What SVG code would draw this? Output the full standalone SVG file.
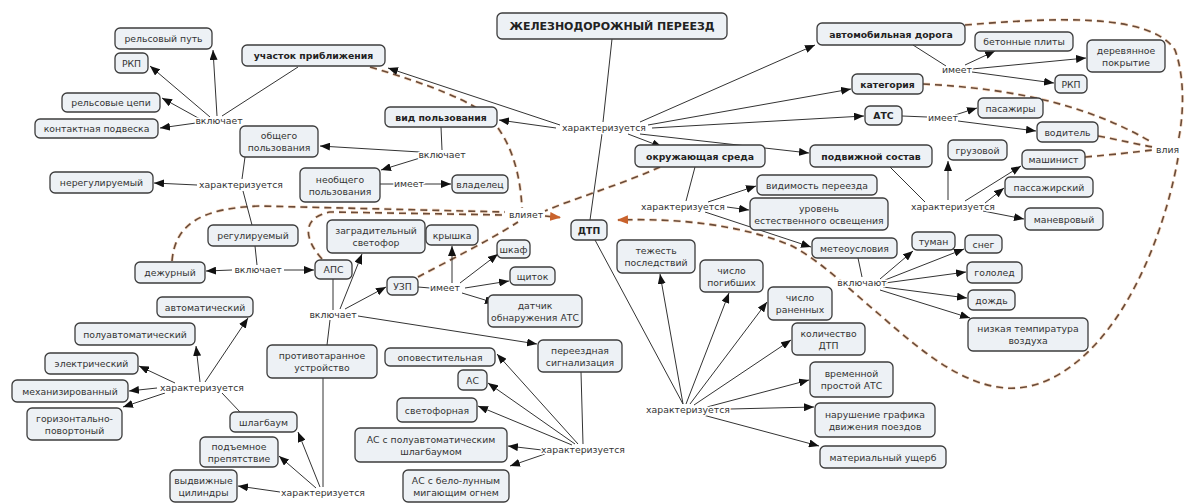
<svg xmlns="http://www.w3.org/2000/svg" width="1187" height="504" viewBox="0 0 1187 504">
<style>
.n rect{fill:#edf1f5;stroke:#3c3c3c;stroke-width:1.3}
.n text{font-family:"DejaVu Sans",sans-serif;font-size:9.3px;fill:#333;text-anchor:middle}
.n.b text{font-weight:bold;fill:#222}
.l{font-family:"DejaVu Sans",sans-serif;font-size:9.3px;fill:#333;text-anchor:middle;stroke:#fff;stroke-width:3px;paint-order:stroke;stroke-linejoin:round}
.c line,.c path{stroke:#333;stroke-width:1;fill:none}
.a{marker-end:url(#ar)}
.dg{stroke:#f8dcc6;stroke-width:3.2;fill:none;stroke-dasharray:7 5}
.d{stroke:#6a4b38;stroke-width:1.6;fill:none;stroke-dasharray:7 5}
</style>
<defs>
<marker id="ar" markerUnits="userSpaceOnUse" markerWidth="10" markerHeight="8" refX="10" refY="4" orient="auto"><path d="M0,0 L10,4 L0,8 z" fill="#111"/></marker>
<marker id="ao" markerUnits="userSpaceOnUse" markerWidth="11" markerHeight="9" refX="10" refY="4.5" orient="auto"><path d="M0,0 L11,4.5 L0,9 z" fill="#c9622c"/></marker>
</defs>
<rect width="1187" height="504" fill="#fff"/>
<g id="connectors">
<g id="dashed">
<path class="dg" d="M370,67 C430,85 470,100 490,118 C510,140 520,170 522,208"/>
<path class="d" d="M370,67 C430,85 470,100 490,118 C510,140 520,170 522,208"/>
<path class="dg" d="M172,261 C175,225 200,208 260,206 L505,212"/>
<path class="d" d="M172,261 C175,225 200,208 260,206 L505,212"/>
<path class="dg" d="M322,259 C305,240 300,218 330,212 L505,215"/>
<path class="d" d="M322,259 C305,240 300,218 330,212 L505,215"/>
<path class="dg" d="M418,277 C450,260 490,240 518,222"/>
<path class="d" d="M418,277 C450,260 490,240 518,222"/>
<path class="dg" d="M660,167 C620,185 570,200 545,211"/>
<path class="d" d="M660,167 C620,185 570,200 545,211"/>
<path class="dg" d="M545,216 L560,217.5"/>
<path class="d" d="M545,216 L560,217.5" marker-end="url(#ao)"/>
<path class="dg" d="M965,25 C1050,18 1150,12 1175,50 C1186,80 1183,120 1178,142"/>
<path class="d" d="M965,25 C1050,18 1150,12 1175,50 C1186,80 1183,120 1178,142"/>
<path class="dg" d="M923,84 C1000,88 1080,100 1153,143"/>
<path class="d" d="M923,84 C1000,88 1080,100 1153,143"/>
<path class="dg" d="M1098,136 C1120,140 1140,145 1153,147"/>
<path class="d" d="M1098,136 C1120,140 1140,145 1153,147"/>
<path class="dg" d="M1085,157 C1110,155 1135,152 1153,150"/>
<path class="d" d="M1085,157 C1110,155 1135,152 1153,150"/>
<path class="dg" d="M1178,158 C1168,215 1140,300 1090,350 C1060,380 1030,390 1005,388 C960,384 920,350 880,315 C850,290 820,260 790,245 C740,225 680,218 618,220"/>
<path class="d" d="M1178,158 C1168,215 1140,300 1090,350 C1060,380 1030,390 1005,388 C960,384 920,350 880,315 C850,290 820,260 790,245 C740,225 680,218 618,220" marker-end="url(#ao)"/>
</g>
<g id="links" class="c">
<line x1="298" y1="67" x2="222" y2="116"/>
<line x1="217" y1="116" x2="213" y2="50" class="a"/>
<line x1="210" y1="117" x2="150" y2="66" class="a"/>
<line x1="200" y1="119" x2="162" y2="98" class="a"/>
<line x1="196" y1="123" x2="160" y2="128" class="a"/>
<line x1="612" y1="39" x2="603" y2="122"/>
<line x1="602" y1="134" x2="590" y2="220"/>
<line x1="560" y1="125" x2="388" y2="68" class="a"/>
<line x1="556" y1="128" x2="499" y2="120" class="a"/>
<line x1="640" y1="122" x2="815" y2="45" class="a"/>
<line x1="648" y1="125" x2="851" y2="89" class="a"/>
<line x1="652" y1="128" x2="864" y2="116" class="a"/>
<line x1="628" y1="134" x2="662" y2="147" class="a"/>
<line x1="640" y1="134" x2="809" y2="153" class="a"/>
<line x1="441" y1="127" x2="442" y2="150"/>
<line x1="420" y1="152" x2="320" y2="146" class="a"/>
<line x1="420" y1="158" x2="381" y2="170" class="a"/>
<line x1="380" y1="184" x2="396" y2="184"/>
<line x1="422" y1="184" x2="451" y2="184" class="a"/>
<line x1="245" y1="157" x2="242" y2="179"/>
<line x1="243" y1="191" x2="252" y2="225"/>
<line x1="197" y1="185" x2="154" y2="183" class="a"/>
<line x1="255" y1="246" x2="257" y2="265"/>
<line x1="232" y1="270" x2="206" y2="271" class="a"/>
<line x1="284" y1="270" x2="314" y2="270" class="a"/>
<line x1="333" y1="279" x2="333" y2="310"/>
<line x1="340" y1="309" x2="362" y2="254" class="a"/>
<line x1="345" y1="309" x2="386" y2="287" class="a"/>
<line x1="358" y1="316" x2="537" y2="344" class="a"/>
<line x1="330" y1="320" x2="327" y2="345"/>
<line x1="323" y1="378" x2="323" y2="487"/>
<line x1="320" y1="487" x2="298" y2="432" class="a"/>
<line x1="316" y1="488" x2="279" y2="456" class="a"/>
<line x1="280" y1="492" x2="238" y2="486" class="a"/>
<line x1="240" y1="412" x2="222" y2="393"/>
<line x1="200" y1="382" x2="196" y2="346" class="a"/>
<line x1="205" y1="382" x2="248" y2="318" class="a"/>
<line x1="175" y1="383" x2="139" y2="366" class="a"/>
<line x1="157" y1="388" x2="129" y2="391" class="a"/>
<line x1="165" y1="393" x2="123" y2="407" class="a"/>
<line x1="418" y1="287" x2="430" y2="288"/>
<line x1="452" y1="283" x2="452" y2="246" class="a"/>
<line x1="460" y1="283" x2="498" y2="254" class="a"/>
<line x1="465" y1="288" x2="509" y2="281" class="a"/>
<line x1="462" y1="293" x2="495" y2="303" class="a"/>
<line x1="695" y1="167" x2="686" y2="201"/>
<line x1="708" y1="202" x2="756" y2="186" class="a"/>
<line x1="727" y1="207" x2="749" y2="210" class="a"/>
<line x1="705" y1="212" x2="811" y2="247" class="a"/>
<line x1="858" y1="258" x2="862" y2="277"/>
<line x1="880" y1="279" x2="913" y2="251" class="a"/>
<line x1="885" y1="280" x2="964" y2="249" class="a"/>
<line x1="885" y1="283" x2="966" y2="272" class="a"/>
<line x1="883" y1="287" x2="967" y2="298" class="a"/>
<line x1="880" y1="290" x2="970" y2="318" class="a"/>
<line x1="890" y1="167" x2="925" y2="202"/>
<line x1="948" y1="200" x2="948" y2="161" class="a"/>
<line x1="965" y1="201" x2="1021" y2="166" class="a"/>
<line x1="985" y1="203" x2="1004" y2="188" class="a"/>
<line x1="983" y1="211" x2="1024" y2="219" class="a"/>
<line x1="913" y1="45" x2="946" y2="66"/>
<line x1="965" y1="65" x2="995" y2="51" class="a"/>
<line x1="972" y1="69" x2="1086" y2="58" class="a"/>
<line x1="972" y1="72" x2="1054" y2="83" class="a"/>
<line x1="902" y1="116" x2="927" y2="117"/>
<line x1="955" y1="115" x2="977" y2="108" class="a"/>
<line x1="958" y1="121" x2="1036" y2="131" class="a"/>
<line x1="595" y1="240" x2="683" y2="404"/>
<line x1="683" y1="404" x2="660" y2="274" class="a"/>
<line x1="686" y1="404" x2="729" y2="293" class="a"/>
<line x1="690" y1="404" x2="767" y2="302" class="a"/>
<line x1="694" y1="405" x2="791" y2="340" class="a"/>
<line x1="707" y1="407" x2="809" y2="380" class="a"/>
<line x1="730" y1="409" x2="814" y2="407" class="a"/>
<line x1="703" y1="415" x2="819" y2="446" class="a"/>
<line x1="581" y1="372" x2="583" y2="444"/>
<line x1="578" y1="444" x2="497" y2="354" class="a"/>
<line x1="575" y1="444" x2="488" y2="383" class="a"/>
<line x1="572" y1="445" x2="478" y2="406" class="a"/>
<line x1="542" y1="450" x2="508" y2="446" class="a"/>
<line x1="545" y1="454" x2="510" y2="466" class="a"/>
</g>
<g id="labels">
<text class="l" x="219" y="124">включает</text>
<text class="l" x="604" y="131">характеризуется</text>
<text class="l" x="442" y="158">включает</text>
<text class="l" x="409" y="187">имеет</text>
<text class="l" x="241" y="188">характеризуется</text>
<text class="l" x="258" y="273">включает</text>
<text class="l" x="333" y="318">включает</text>
<text class="l" x="445" y="291">имеет</text>
<text class="l" x="526" y="218">влияет</text>
<text class="l" x="683" y="210">характеризуется</text>
<text class="l" x="862" y="286">включают</text>
<text class="l" x="953" y="210">характеризуется</text>
<text class="l" x="957" y="73">имеет</text>
<text class="l" x="943" y="121">имеет</text>
<text class="l" x="1156" y="153" style="text-anchor:start">влия</text>
<text class="l" x="688" y="413">характеризуется</text>
<text class="l" x="202" y="391">характеризуется</text>
<text class="l" x="323" y="496">характеризуется</text>
<text class="l" x="583" y="453">характеризуется</text>
</g>
</g>
<g id="n_title" class="n b"><rect x="497" y="13" width="230" height="26" rx="5"/><text x="612" y="30" style="font-size:11px">ЖЕЛЕЗНОДОРОЖНЫЙ ПЕРЕЕЗД</text></g>
<g id="n_rp" class="n"><rect x="115" y="28" width="97" height="21" rx="5"/><text x="163.5" y="42">рельсовый путь</text></g>
<g id="n_rkp1" class="n"><rect x="115" y="53" width="33" height="20" rx="5"/><text x="131.5" y="66.5">РКП</text></g>
<g id="n_rc" class="n"><rect x="62" y="93" width="98" height="19" rx="5"/><text x="111" y="106">рельсовые цепи</text></g>
<g id="n_kp" class="n"><rect x="35" y="119" width="123" height="19" rx="5"/><text x="96.5" y="132">контактная подвеска</text></g>
<g id="n_up" class="n b"><rect x="242" y="45" width="143" height="21" rx="5"/><text x="313.5" y="59">участок приближения</text></g>
<g id="n_op" class="n"><rect x="240" y="126" width="78" height="31" rx="5"/><text x="279" y="139">общего</text><text x="279" y="151">пользования</text></g>
<g id="n_vp" class="n b"><rect x="385" y="107" width="112" height="20" rx="5"/><text x="441" y="120.5">вид пользования</text></g>
<g id="n_nop" class="n"><rect x="300" y="168" width="80" height="34" rx="5"/><text x="340" y="182.5">необщего</text><text x="340" y="194.5">пользования</text></g>
<g id="n_vl" class="n"><rect x="452" y="175" width="56" height="18" rx="5"/><text x="480" y="187.5">владелец</text></g>
<g id="n_nr" class="n"><rect x="50" y="172" width="103" height="21" rx="5"/><text x="101.5" y="186">нерегулируемый</text></g>
<g id="n_reg" class="n"><rect x="208" y="225" width="90" height="21" rx="5"/><text x="253" y="239">регулируемый</text></g>
<g id="n_dej" class="n"><rect x="135" y="262" width="70" height="21" rx="5"/><text x="170" y="276">дежурный</text></g>
<g id="n_aps" class="n"><rect x="315" y="260" width="37" height="19" rx="5"/><text x="333.5" y="273">АПС</text></g>
<g id="n_zs" class="n"><rect x="327" y="220" width="98" height="33" rx="5"/><text x="376" y="234">заградительный</text><text x="376" y="246">светофор</text></g>
<g id="n_kr" class="n"><rect x="426" y="225" width="52" height="20" rx="5"/><text x="452" y="238.5">крышка</text></g>
<g id="n_shk" class="n"><rect x="497" y="240" width="33" height="18" rx="5"/><text x="513.5" y="252.5">шкаф</text></g>
<g id="n_sht" class="n"><rect x="510" y="267" width="45" height="18" rx="5"/><text x="532.5" y="279.5">щиток</text></g>
<g id="n_uzp" class="n"><rect x="387" y="277" width="31" height="18" rx="5"/><text x="402.5" y="289.5">УЗП</text></g>
<g id="n_dat" class="n"><rect x="488" y="295" width="94" height="32" rx="5"/><text x="535" y="308.5">датчик</text><text x="535" y="320.5">обнаружения АТС</text></g>
<g id="n_dtp" class="n b"><rect x="571" y="220" width="36" height="20" rx="5"/><text x="589" y="233.5">ДТП</text></g>
<g id="n_os" class="n b"><rect x="635" y="145" width="130" height="22" rx="5"/><text x="700" y="159.5">окружающая среда</text></g>
<g id="n_ad" class="n b"><rect x="817" y="23" width="148" height="22" rx="5"/><text x="891" y="37.5">автомобильная дорога</text></g>
<g id="n_kat" class="n b"><rect x="852" y="74" width="71" height="20" rx="5"/><text x="887.5" y="87.5">категория</text></g>
<g id="n_ats" class="n b"><rect x="865" y="106" width="37" height="19" rx="5"/><text x="883.5" y="119">АТС</text></g>
<g id="n_ps" class="n b"><rect x="810" y="145" width="122" height="22" rx="5"/><text x="871" y="159.5">подвижной состав</text></g>
<g id="n_bp" class="n"><rect x="975" y="32" width="98" height="19" rx="5"/><text x="1024" y="45">бетонные плиты</text></g>
<g id="n_dp" class="n"><rect x="1087" y="40" width="78" height="32" rx="5"/><text x="1126" y="53.5">деревянное</text><text x="1126" y="65.5">покрытие</text></g>
<g id="n_rkp2" class="n"><rect x="1055" y="75" width="32" height="18" rx="5"/><text x="1071" y="87.5">РКП</text></g>
<g id="n_pas" class="n"><rect x="978" y="98" width="65" height="20" rx="5"/><text x="1010.5" y="111.5">пасажиры</text></g>
<g id="n_vod" class="n"><rect x="1037" y="122" width="61" height="20" rx="5"/><text x="1067.5" y="135.5">водитель</text></g>
<g id="n_gr" class="n"><rect x="948" y="140" width="59" height="20" rx="5"/><text x="977.5" y="153.5">грузовой</text></g>
<g id="n_mash" class="n"><rect x="1022" y="150" width="63" height="19" rx="5"/><text x="1053.5" y="163">машинист</text></g>
<g id="n_pass" class="n"><rect x="1005" y="177" width="88" height="20" rx="5"/><text x="1049" y="190.5">пассажирский</text></g>
<g id="n_man" class="n"><rect x="1025" y="208" width="78" height="22" rx="5"/><text x="1064" y="222.5">маневровый</text></g>
<g id="n_tum" class="n"><rect x="912" y="232" width="43" height="18" rx="5"/><text x="933.5" y="244.5">туман</text></g>
<g id="n_sn" class="n"><rect x="965" y="235" width="37" height="18" rx="5"/><text x="983.5" y="247.5">снег</text></g>
<g id="n_gol" class="n"><rect x="967" y="262" width="55" height="21" rx="5"/><text x="994.5" y="276">гололед</text></g>
<g id="n_doj" class="n"><rect x="968" y="290" width="47" height="20" rx="5"/><text x="991.5" y="303.5">дождь</text></g>
<g id="n_nt" class="n"><rect x="968" y="318" width="120" height="33" rx="5"/><text x="1028" y="332">низкая темпиратура</text><text x="1028" y="344">воздуха</text></g>
<g id="n_vid" class="n"><rect x="757" y="175" width="120" height="20" rx="5"/><text x="817" y="188.5">видимость переезда</text></g>
<g id="n_ur" class="n"><rect x="750" y="198" width="138" height="32" rx="5"/><text x="819" y="211.5">уровень</text><text x="819" y="223.5">естественного освещения</text></g>
<g id="n_met" class="n"><rect x="812" y="238" width="85" height="20" rx="5"/><text x="854.5" y="251.5">метеоусловия</text></g>
<g id="n_tez" class="n"><rect x="617" y="240" width="78" height="33" rx="5"/><text x="656" y="254">тежесть</text><text x="656" y="266">последствий</text></g>
<g id="n_pog" class="n"><rect x="700" y="260" width="63" height="32" rx="5"/><text x="731.5" y="273.5">число</text><text x="731.5" y="285.5">погибших</text></g>
<g id="n_ran" class="n"><rect x="768" y="287" width="64" height="33" rx="5"/><text x="800" y="301">число</text><text x="800" y="313">раненных</text></g>
<g id="n_kol" class="n"><rect x="792" y="323" width="73" height="32" rx="5"/><text x="828.5" y="336.5">количество</text><text x="828.5" y="348.5">ДТП</text></g>
<g id="n_vr" class="n"><rect x="810" y="362" width="83" height="35" rx="5"/><text x="851.5" y="377">временной</text><text x="851.5" y="389">простой АТС</text></g>
<g id="n_nar" class="n"><rect x="815" y="403" width="120" height="34" rx="5"/><text x="875" y="417.5">нарушение графика</text><text x="875" y="429.5">движения поездов</text></g>
<g id="n_mat" class="n"><rect x="820" y="446" width="126" height="22" rx="5"/><text x="883" y="460.5">материальный ущерб</text></g>
<g id="n_avt" class="n"><rect x="157" y="297" width="96" height="20" rx="5"/><text x="205" y="310.5">автоматический</text></g>
<g id="n_pavt" class="n"><rect x="75" y="323" width="120" height="22" rx="5"/><text x="135" y="337.5">полуавтоматический</text></g>
<g id="n_el" class="n"><rect x="45" y="353" width="93" height="21" rx="5"/><text x="91.5" y="367">электрический</text></g>
<g id="n_meh" class="n"><rect x="12" y="380" width="116" height="22" rx="5"/><text x="70" y="394.5">механизированный</text></g>
<g id="n_gor" class="n"><rect x="27" y="408" width="95" height="32" rx="5"/><text x="74.5" y="421.5">горизонтально-</text><text x="74.5" y="433.5">повортоный</text></g>
<g id="n_shl" class="n"><rect x="230" y="412" width="67" height="20" rx="5"/><text x="263.5" y="425.5">шлагбаум</text></g>
<g id="n_pod" class="n"><rect x="200" y="437" width="78" height="30" rx="5"/><text x="239" y="449.5">подъемное</text><text x="239" y="461.5">препятствие</text></g>
<g id="n_vyd" class="n"><rect x="170" y="470" width="67" height="32" rx="5"/><text x="203.5" y="483.5">выдвижные</text><text x="203.5" y="495.5">цилиндры</text></g>
<g id="n_pu" class="n"><rect x="267" y="345" width="110" height="33" rx="5"/><text x="322" y="359">противотаранное</text><text x="322" y="371">устройство</text></g>
<g id="n_opov" class="n"><rect x="385" y="348" width="110" height="18" rx="5"/><text x="440" y="360.5">оповестительная</text></g>
<g id="n_as" class="n"><rect x="458" y="370" width="29" height="20" rx="5"/><text x="472.5" y="383.5">АС</text></g>
<g id="n_svf" class="n"><rect x="397" y="398" width="80" height="24" rx="5"/><text x="437" y="413.5">светофорная</text></g>
<g id="n_aspa" class="n"><rect x="355" y="428" width="152" height="34" rx="5"/><text x="431" y="442.5">АС с полуавтоматическим</text><text x="431" y="454.5">шлагбаумом</text></g>
<g id="n_asbl" class="n"><rect x="403" y="470" width="106" height="32" rx="5"/><text x="456" y="483.5">АС с бело-лунным</text><text x="456" y="495.5">мигающим огнем</text></g>
<g id="n_pers" class="n"><rect x="538" y="340" width="84" height="32" rx="5"/><text x="580" y="353.5">переездная</text><text x="580" y="365.5">сигнализация</text></g>
</svg>
